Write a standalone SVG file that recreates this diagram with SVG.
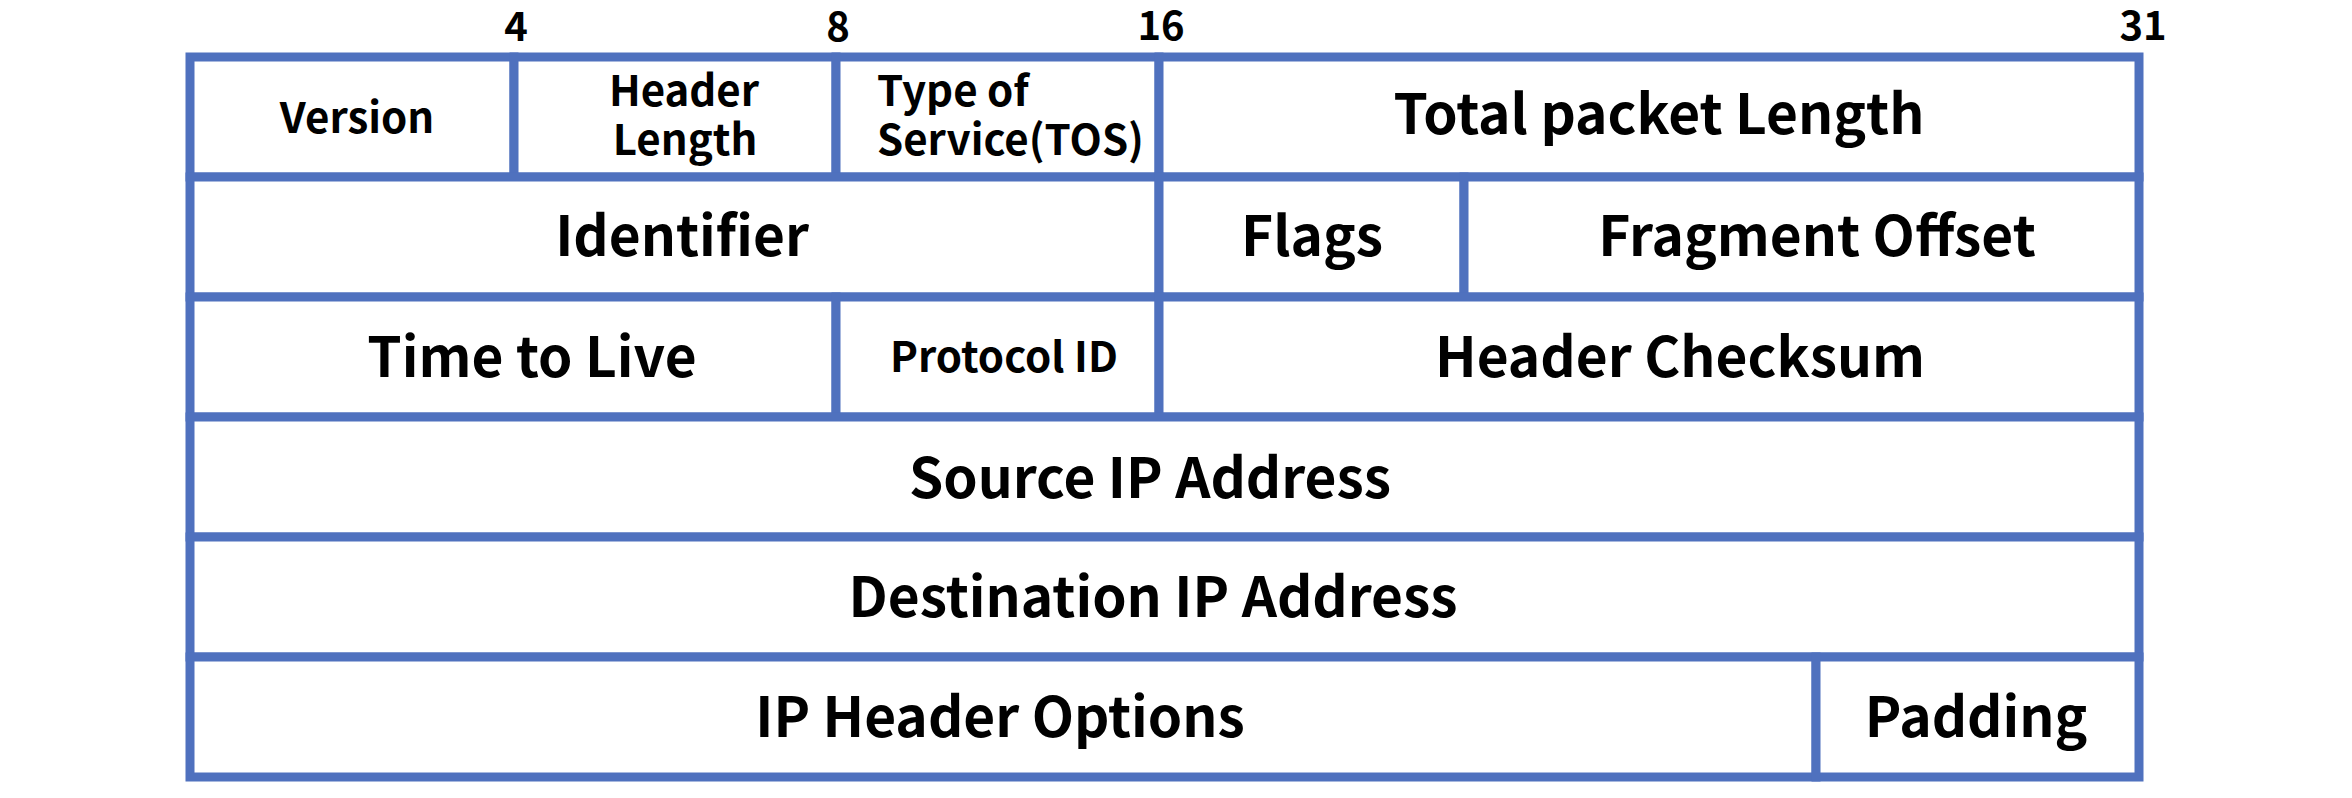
<svg xmlns="http://www.w3.org/2000/svg" width="2352" height="798" viewBox="0 0 2352 798">
  <style>
    .cell { fill: #ffffff; stroke: #4F71BE; stroke-width: 9; }
    text { font-family: "Noto Sans CJK SC", "Source Sans Pro", "Liberation Sans", sans-serif; font-weight: 700; fill: #000000; }
    .big { font-size: 55px; text-anchor: middle; }
    .small { font-size: 42px; text-anchor: middle; }
    .left { text-anchor: start; }
    .bit { font-size: 40px; text-anchor: middle; }
  </style>
  <rect x="0" y="0" width="2352" height="798" fill="#ffffff"/>

  <!-- bit offsets -->
  <g id="bit-offsets">
    <text class="bit" x="516" y="41">4</text>
    <text class="bit" x="838" y="41">8</text>
    <text class="bit" x="1161" y="40">16</text>
    <text class="bit" x="2143" y="40">31</text>
  </g>

  <!-- row 1 -->
  <g id="version">
    <rect class="cell" x="190" y="57" width="324" height="120"/>
    <text class="small" x="357" y="133">Version</text>
  </g>
  <g id="header-length">
    <rect class="cell" x="514" y="57" width="322" height="120"/>
    <text class="small" x="684" y="106">Header</text>
    <text class="small" x="685" y="155">Length</text>
  </g>
  <g id="type-of-service">
    <rect class="cell" x="836" y="57" width="323" height="120"/>
    <text class="small left" x="877" y="106">Type of</text>
    <text class="small left" x="877" y="155">Service(TOS)</text>
  </g>
  <g id="total-length">
    <rect class="cell" x="1159" y="57" width="980" height="120"/>
    <text class="big" x="1659" y="134">Total packet Length</text>
  </g>

  <!-- row 2 -->
  <g id="identifier">
    <rect class="cell" x="190" y="177" width="969" height="120"/>
    <text class="big" x="682" y="256">Identifier</text>
  </g>
  <g id="flags">
    <rect class="cell" x="1159" y="177" width="305" height="120"/>
    <text class="big" x="1312" y="256">Flags</text>
  </g>
  <g id="fragment-offset">
    <rect class="cell" x="1464" y="177" width="675" height="120"/>
    <text class="big" x="1817" y="256">Fragment Offset</text>
  </g>

  <!-- row 3 -->
  <g id="time-to-live">
    <rect class="cell" x="190" y="297" width="646" height="120"/>
    <text class="big" x="532" y="377">Time to Live</text>
  </g>
  <g id="protocol-id">
    <rect class="cell" x="836" y="297" width="323" height="120"/>
    <text class="small" x="1004" y="372">Protocol ID</text>
  </g>
  <g id="header-checksum">
    <rect class="cell" x="1159" y="297" width="980" height="120"/>
    <text class="big" x="1680" y="377">Header Checksum</text>
  </g>

  <!-- row 4 -->
  <g id="source-ip">
    <rect class="cell" x="190" y="417" width="1949" height="120"/>
    <text class="big" x="1150" y="498">Source IP Address</text>
  </g>

  <!-- row 5 -->
  <g id="destination-ip">
    <rect class="cell" x="190" y="537" width="1949" height="120"/>
    <text class="big" x="1153" y="617">Destination IP Address</text>
  </g>

  <!-- row 6 -->
  <g id="ip-options">
    <rect class="cell" x="190" y="657" width="1626" height="120"/>
    <text class="big" x="1000" y="737">IP Header Options</text>
  </g>
  <g id="padding">
    <rect class="cell" x="1816" y="657" width="323" height="120"/>
    <text class="big" x="1976" y="737">Padding</text>
  </g>

  <!-- no connectors in this layout -->
  <g id="connectors"/>
</svg>
